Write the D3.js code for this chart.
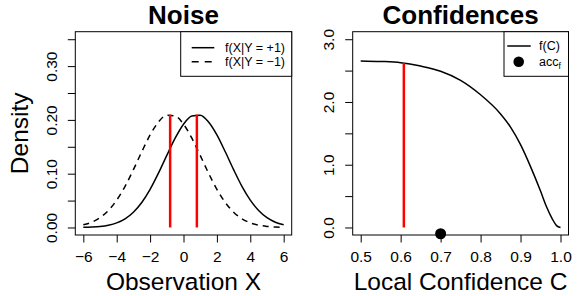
<!DOCTYPE html>
<html>
<head>
<meta charset="utf-8">
<script src="https://cdn.jsdelivr.net/npm/d3@7"></script>
<style>
    body { margin: 0; background: #fff; }
    svg { display: block; font-family: "Liberation Sans", Arial, Helvetica, sans-serif; }
</style>
</head>
<body>
<div class="chart"></div>
<script>
// left panel: class conditional densities of the observation
const noiseX = [-6, -5.5, -5, -4.5, -4, -3.5, -3, -2.5, -2, -1.5, -1, -0.5, 0,
    0.5, 1, 1.5, 2, 2.5, 3, 3.5, 4, 4.5, 5, 5.5, 6];
const densityPos = [0.0003, 0.0009, 0.0020, 0.0043, 0.0086, 0.0162, 0.0284, 0.0465, 0.0709,
    0.1009, 0.134, 0.166, 0.192, 0.2074, 0.2088, 0.196, 0.172, 0.1407, 0.1075, 0.0765,
    0.0509, 0.0316, 0.0182, 0.0098, 0.0050];
const densityNeg = [0.0050, 0.0098, 0.0182, 0.0316, 0.0509, 0.0765, 0.1075, 0.1407, 0.172,
    0.196, 0.2088, 0.2074, 0.192, 0.166, 0.134, 0.1009, 0.0709, 0.0465, 0.0284, 0.0162,
    0.0086, 0.0043, 0.0020, 0.0009, 0.0003];
const noiseMeans = [-0.8, 0.8];
const noisePeaks = [0.21, 0.21];
const noiseXTicks = [-6, -4, -2, 0, 2, 4, 6];
const noiseYTicks = [0, 0.05, 0.1, 0.15, 0.2, 0.25, 0.3, 0.35];
const noiseLegend = ['f(X|Y = +1)', 'f(X|Y = \u22121)'];

// right panel: density of the local confidence
const confC = [0.5, 0.55, 0.6, 0.65, 0.7, 0.75, 0.8, 0.85, 0.875, 0.9, 0.925, 0.95, 0.965, 0.98, 0.99, 1.0];
const confF = [2.655, 2.646, 2.627, 2.572, 2.49, 2.345, 2.115, 1.81, 1.60, 1.32, 0.97, 0.58, 0.33, 0.13, 0.03, 0];
const confCut = [0.608];
const confCutF = [2.62];
const accX = [0.7];
const accY = [-0.1];
const confXTicks = [0.5, 0.6, 0.7, 0.8, 0.9, 1.0];
const confYTicks = [0, 0.5, 1, 1.5, 2, 2.5, 3];

const width = 577, height = 296;
const svg = d3.select('.chart').append('svg')
    .attr('width', width)
    .attr('height', height);

function makePanel(opts) {
    const { box, xlim, ylim } = opts;
    const ext = v => (v[1] - v[0]) * 0.04; // R style axis extension
    const x = d3.scaleLinear()
        .domain([xlim[0] - ext(xlim), xlim[1] + ext(xlim)])
        .range([box.left, box.right]);
    const y = d3.scaleLinear()
        .domain([ylim[0] - ext(ylim), ylim[1] + ext(ylim)])
        .range([box.bottom, box.top]);

    const g = svg.append('g');

    // x axis
    const xa = g.append('g')
        .attr('transform', `translate(0,${box.bottom})`)
        .call(d3.axisBottom(x).tickValues(opts.xTicks).tickSize(7.5).tickSizeOuter(0).tickFormat(opts.xFormat));
    xa.select('.domain').remove();
    xa.selectAll('line').attr('stroke', '#000');
    xa.selectAll('text')
        .attr('y', 26.5)
        .attr('dy', 0)
        .attr('fill', '#000')
        .style('font-size', '15.5px');

    // y axis, labels rotated like R's default
    const ya = g.append('g')
        .attr('transform', `translate(${box.left},0)`)
        .call(d3.axisLeft(y).tickValues(opts.yTicks).tickSize(7.5).tickSizeOuter(0).tickFormat(opts.yFormat));
    ya.select('.domain').remove();
    ya.selectAll('line').attr('stroke', '#000');
    ya.selectAll('text')
        .attr('x', null)
        .attr('dy', 0)
        .attr('text-anchor', 'middle')
        .attr('transform', 'translate(-18.5,0) rotate(-90)')
        .attr('fill', '#000')
        .style('font-size', '15.5px');

    g.append('rect')
        .attr('x', box.left)
        .attr('y', box.top)
        .attr('width', box.right - box.left)
        .attr('height', box.bottom - box.top)
        .attr('fill', 'none')
        .attr('stroke', '#000')
        .attr('stroke-width', 1);

    const cx = (box.left + box.right) / 2;
    g.append('text')
        .attr('x', cx)
        .attr('y', 24)
        .attr('text-anchor', 'middle')
        .style('font-size', '26px')
        .style('font-weight', 'bold')
        .text(opts.title);

    g.append('text')
        .attr('x', cx)
        .attr('y', 290)
        .attr('text-anchor', 'middle')
        .style('font-size', '24.5px')
        .text(opts.xLabel);

    if (opts.yLabel) {
        g.append('text')
            .attr('transform', `translate(28,${(box.top + box.bottom) / 2}) rotate(-90)`)
            .attr('text-anchor', 'middle')
            .style('font-size', '24.5px')
            .text(opts.yLabel);
    }

    return { g, x, y };
}

// ---- Noise panel
const noise = makePanel({
    box: { left: 75.3, right: 291.7, top: 31.7, bottom: 235 },
    xlim: [-6, 6],
    ylim: [0, 0.35],
    xTicks: noiseXTicks,
    yTicks: noiseYTicks,
    xFormat: d3.format('d'),
    yFormat: d => Math.round(d * 100) % 10 === 0 ? d3.format('.2f')(d) : '',
    title: 'Noise',
    xLabel: 'Observation X',
    yLabel: 'Density'
});

const noiseLine = vals => d3.line()
    .x((d, i) => noise.x(noiseX[i]))
    .y(d => noise.y(d))
    .curve(d3.curveMonotoneX)(vals);

noise.g.append('path')
    .attr('d', noiseLine(densityPos))
    .attr('fill', 'none')
    .attr('stroke', '#000')
    .attr('stroke-width', 1.5);

noise.g.append('path')
    .attr('d', noiseLine(densityNeg))
    .attr('fill', 'none')
    .attr('stroke', '#000')
    .attr('stroke-width', 1.5)
    .attr('stroke-dasharray', '6,5');

noise.g.selectAll('.mean')
    .data(noiseMeans)
    .enter()
    .append('line')
    .attr('x1', d => noise.x(d))
    .attr('x2', d => noise.x(d))
    .attr('y1', noise.y(0))
    .attr('y2', (d, i) => noise.y(noisePeaks[i]))
    .attr('stroke', '#ff0000')
    .attr('stroke-width', 2.5);

// legend
const nl = noise.g.append('g');
nl.append('rect')
    .attr('x', 180.7).attr('y', 31.7)
    .attr('width', 291.7 - 180.7).attr('height', 44.6)
    .attr('fill', '#fff').attr('stroke', '#000');
noiseLegend.forEach((label, i) => {
    const ly = 47.7 + i * 14;
    nl.append('line')
        .attr('x1', 191.7).attr('x2', 214.3)
        .attr('y1', ly).attr('y2', ly)
        .attr('stroke', '#000')
        .attr('stroke-width', 1.5)
        .attr('stroke-dasharray', i === 1 ? '7,6' : null);
    nl.append('text')
        .attr('x', 225).attr('y', ly)
        .attr('dy', '0.35em')
        .style('font-size', '12.5px')
        .text(label);
});

// ---- Confidences panel
const conf = makePanel({
    box: { left: 352.7, right: 568.5, top: 31.7, bottom: 235 },
    xlim: [0.5, 1],
    ylim: [0, 3],
    xTicks: confXTicks,
    yTicks: confYTicks,
    xFormat: d3.format('.1f'),
    yFormat: d => d % 1 === 0 ? d.toFixed(1) : '',
    title: 'Confidences',
    xLabel: 'Local Confidence C'
});

conf.g.append('path')
    .attr('d', d3.line()
        .x((d, i) => conf.x(confC[i]))
        .y(d => conf.y(d))
        .curve(d3.curveMonotoneX)(confF))
    .attr('fill', 'none')
    .attr('stroke', '#000')
    .attr('stroke-width', 1.5);

conf.g.selectAll('.cut')
    .data(confCut)
    .enter()
    .append('line')
    .attr('x1', d => conf.x(d))
    .attr('x2', d => conf.x(d))
    .attr('y1', conf.y(0))
    .attr('y2', (d, i) => conf.y(confCutF[i]))
    .attr('stroke', '#ff0000')
    .attr('stroke-width', 2.5);

conf.g.selectAll('.acc')
    .data(accX)
    .enter()
    .append('circle')
    .attr('cx', d => conf.x(d))
    .attr('cy', (d, i) => conf.y(accY[i]))
    .attr('r', 5.5)
    .attr('fill', '#000');

const cl = conf.g.append('g');
cl.append('rect')
    .attr('x', 504).attr('y', 31.7)
    .attr('width', 568.5 - 504).attr('height', 44.6)
    .attr('fill', '#fff').attr('stroke', '#000');
cl.append('line')
    .attr('x1', 507.3).attr('x2', 530.7)
    .attr('y1', 46).attr('y2', 46)
    .attr('stroke', '#000')
    .attr('stroke-width', 1.5);
cl.append('text')
    .attr('x', 539).attr('y', 46)
    .attr('dy', '0.35em')
    .style('font-size', '12.5px')
    .text('f(C)');
cl.append('circle')
    .attr('cx', 518.7).attr('cy', 61.7)
    .attr('r', 5.3)
    .attr('fill', '#000');
const accText = cl.append('text')
    .attr('x', 539).attr('y', 61.7)
    .attr('dy', '0.35em')
    .style('font-size', '12.5px');
accText.append('tspan').text('acc');
accText.append('tspan')
    .attr('dy', 3)
    .style('font-size', '8.5px')
    .text('f');
</script>
</body>
</html>
